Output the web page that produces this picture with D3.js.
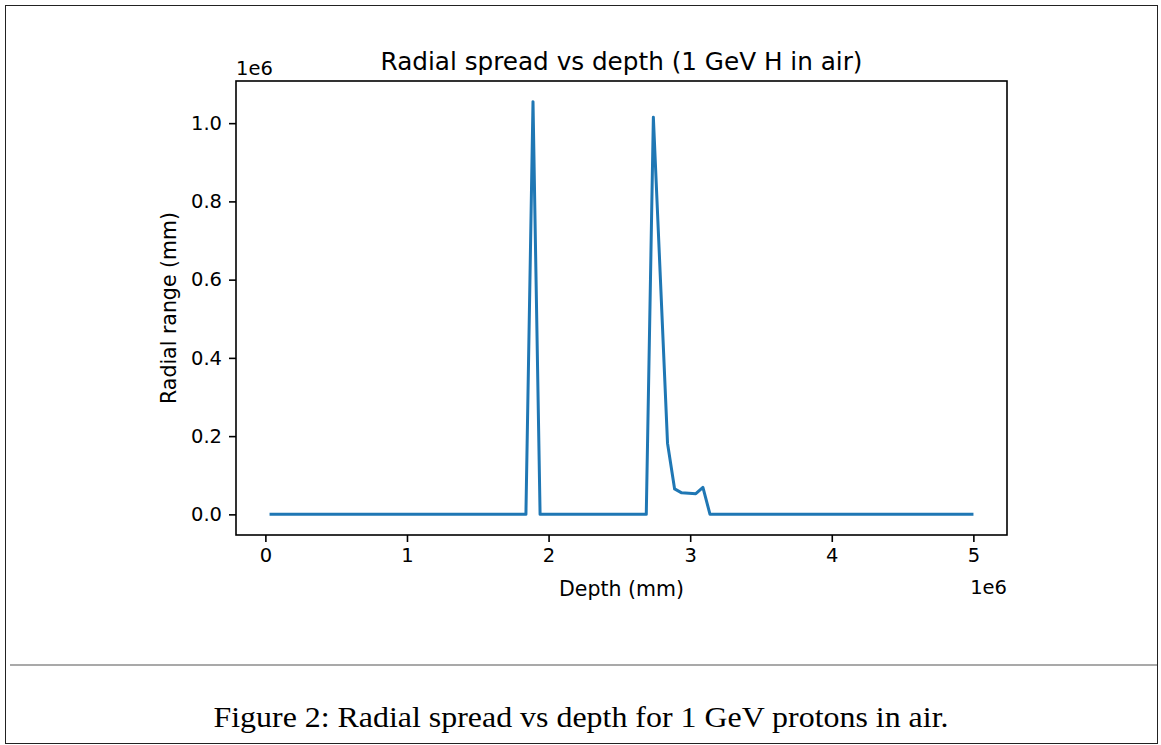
<!DOCTYPE html>
<html>
<head>
<meta charset="utf-8">
<script src="https://cdn.jsdelivr.net/npm/d3@7"></script>
<style>
  body { margin: 0; background: #fff; }
  svg { display: block; }
</style>
</head>
<body>
<svg id="chart"></svg>
<script>
// Data (mm). Flat zero stretches only keep their end points.
var depth  = [40000, 1840000, 1890000, 1940000, 2690000, 2740000, 2790000, 2840000,
              2890000, 2940000, 2990000, 3040000, 3090000, 3140000, 4990000];
var radial = [0, 0, 1055000, 0, 0, 1015000, 600000, 182000,
              65000, 55000, 54000, 53000, 69000, 0, 0];
var xTicks = [0, 1000000, 2000000, 3000000, 4000000, 5000000];
var yTicks = [0, 200000, 400000, 600000, 800000, 1000000];

var titleText = "Radial spread vs depth (1 GeV H in air)";
var xLabel = "Depth (mm)";
var yLabel = "Radial range (mm)";
var caption = "Figure 2: Radial spread vs depth for 1 GeV protons in air.";

var svgWidth = 1161;
var svgHeight = 745;
var margin = { top: 81, left: 236, right: 154, bottom: 210 };
var chartWidth = svgWidth - margin.left - margin.right;
var chartHeight = svgHeight - margin.top - margin.bottom;

var svg = d3.select("#chart")
  .attr("width", svgWidth)
  .attr("height", svgHeight);

// page frame
svg.append("rect")
  .attr("x", 5.5).attr("y", 5.5)
  .attr("width", 1152).attr("height", 738)
  .attr("fill", "none")
  .attr("stroke", "#222")
  .attr("stroke-width", 1);

svg.append("line")
  .attr("x1", 10).attr("x2", 1157)
  .attr("y1", 665).attr("y2", 665)
  .attr("stroke", "#555")
  .attr("stroke-width", 1.2);

svg.append("text")
  .attr("x", 581).attr("y", 727)
  .attr("text-anchor", "middle")
  .attr("textLength", 735)
  .attr("lengthAdjust", "spacingAndGlyphs")
  .style("font-family", "'Liberation Serif', 'DejaVu Serif', serif")
  .style("font-size", "30px")
  .text(caption);

// matplotlib style 5% margins
function padded(ext) {
  var d = (ext[1] - ext[0]) * 0.05;
  return [ext[0] - d, ext[1] + d];
}

var xScale = d3.scaleLinear()
  .domain(padded(d3.extent(depth)))
  .range([0, chartWidth]);
var yScale = d3.scaleLinear()
  .domain(padded(d3.extent(radial)))
  .range([chartHeight, 0]);

var chart = svg.append("g")
  .attr("transform", "translate(" + margin.left + "," + margin.top + ")");

var font = "'DejaVu Sans', sans-serif";
var fs = "19.5px";
var labelFs = "20.5px";

var line = d3.line()
  .x(function (d, i) { return xScale(depth[i]); })
  .y(function (d) { return yScale(d); });

chart.append("path")
  .datum(radial)
  .attr("fill", "none")
  .attr("stroke", "#1f77b4")
  .attr("stroke-width", 3)
  .attr("stroke-linejoin", "round")
  .attr("stroke-linecap", "square")
  .attr("d", line);

// axes
var xAxis = chart.append("g")
  .attr("transform", "translate(0," + chartHeight + ")")
  .call(d3.axisBottom(xScale).tickValues(xTicks).tickSize(7).tickPadding(6)
    .tickFormat(function (d) { return d / 1e6; }));
var yAxis = chart.append("g")
  .call(d3.axisLeft(yScale).tickValues(yTicks).tickSize(7).tickPadding(7)
    .tickFormat(function (d) { return (d / 1e6).toFixed(1); }));

[xAxis, yAxis].forEach(function (ax) {
  ax.select(".domain").remove();
  ax.selectAll("line").attr("stroke", "#000").attr("stroke-width", 1.6);
  ax.selectAll("text")
    .attr("fill", "#000")
    .style("font-family", font)
    .style("font-size", fs);
});

chart.append("rect")
  .attr("width", chartWidth)
  .attr("height", chartHeight)
  .attr("fill", "none")
  .attr("stroke", "#000")
  .attr("stroke-width", 1.6);

// labels
chart.append("text")
  .attr("x", chartWidth / 2).attr("y", -11)
  .attr("text-anchor", "middle")
  .style("font-family", font)
  .style("font-size", "24.7px")
  .text(titleText);

chart.append("text")
  .attr("x", chartWidth / 2).attr("y", chartHeight + 61)
  .attr("text-anchor", "middle")
  .style("font-family", font)
  .style("font-size", labelFs)
  .text(xLabel);

chart.append("text")
  .attr("transform", "translate(-60," + chartHeight / 2 + ") rotate(-90)")
  .attr("text-anchor", "middle")
  .style("font-family", font)
  .style("font-size", labelFs)
  .text(yLabel);

// offset texts
chart.append("text")
  .attr("x", 0).attr("y", -6)
  .style("font-family", font)
  .style("font-size", fs)
  .text("1e6");

chart.append("text")
  .attr("x", chartWidth).attr("y", chartHeight + 59)
  .attr("text-anchor", "end")
  .style("font-family", font)
  .style("font-size", fs)
  .text("1e6");
</script>
</body>
</html>
